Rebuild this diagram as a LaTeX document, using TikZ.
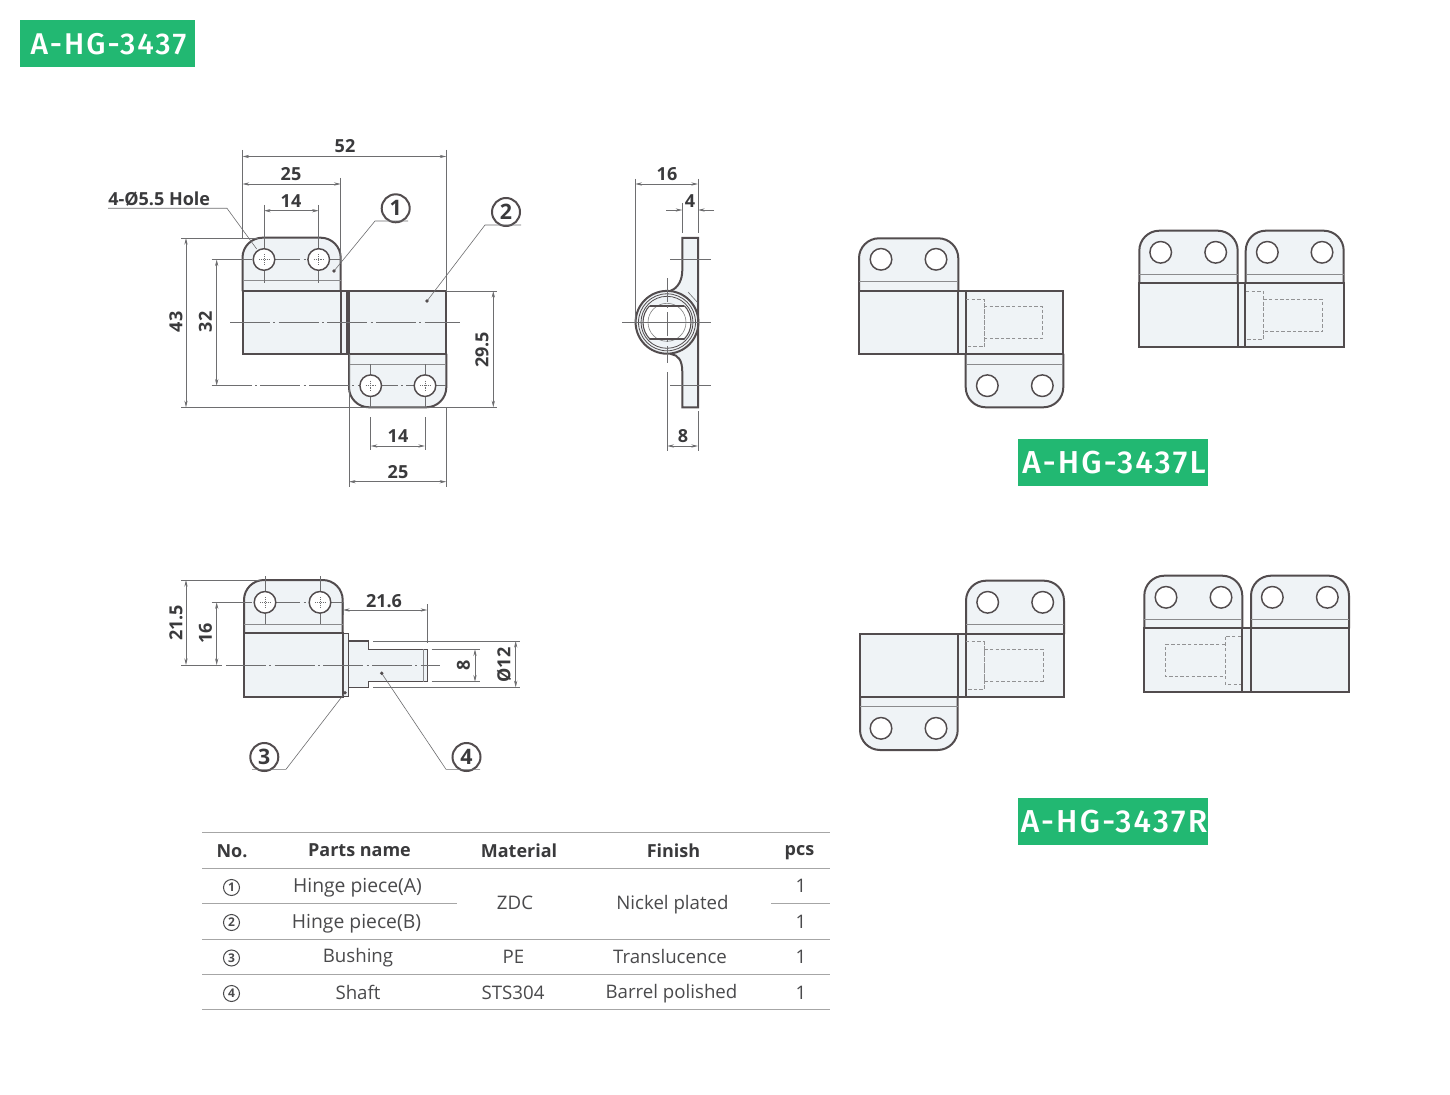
\documentclass[tikz,border=0pt]{standalone}
\usepackage{fontspec}
\setmainfont{Open Sans}
\newfontfamily\dimfont{Open Sans}
\newfontfamily\badgefont[LetterSpace=7]{Fira Sans Medium}
\usetikzlibrary{arrows.meta}
\definecolor{ink}{HTML}{524C4E}
\definecolor{thin}{HTML}{6E6E70}
\definecolor{steel}{HTML}{EFF3F6}
\definecolor{badge}{HTML}{22B872}
\definecolor{txt}{HTML}{3A3A3C}
\definecolor{tbl}{HTML}{4A4A4C}
\tikzset{
  outl/.style={draw=ink,line width=1.5pt,line cap=round},
  foldl/.style={draw=thin!80,line width=0.45pt},
  thinl/.style={draw=thin,line width=0.45pt},
  dimline/.style={thinl,{Stealth[length=5pt,width=2.4pt]}-{Stealth[length=5pt,width=2.4pt]}},
  outarrow/.style={thinl,-{Stealth[length=5pt,width=2.4pt]}},
  center line/.style={thinl,dash pattern=on 30pt off 2.5pt on 1.5pt off 2.5pt},
  hidden/.style={draw=thin!75,line width=0.45pt,dash pattern=on 2.6pt off 1.6pt},
  dimtext/.style={font=\dimfont\bfseries\fontsize{13.5}{14}\selectfont,text=txt,inner sep=0pt},
  badgetext/.style={text=white,font=\badgefont\fontsize{22.5}{22.5}\selectfont,inner sep=0pt},
  badgetextb/.style={text=white,font=\badgefont\fontsize{23.8}{23.8}\selectfont,inner sep=0pt},
  callout/.style={circle,draw=ink,line width=1.5pt,minimum size=21pt,inner sep=0pt,font=\dimfont\bfseries\fontsize{16}{16}\selectfont,text=txt},
  tabcirc/.style={circle,draw=tbl,line width=0.75pt,minimum size=12pt,inner sep=0pt,font=\dimfont\bfseries\fontsize{9}{9}\selectfont,text=tbl},
  thead/.style={font=\dimfont\bfseries\fontsize{13.5}{14}\selectfont,text=txt,inner sep=0pt},
  tcell/.style={font=\fontsize{14}{14}\selectfont,text=tbl,inner sep=0pt},
  tcellw/.style={font=\fontsize{14.5}{14.5}\selectfont,text=tbl,inner sep=0pt},
  rulel/.style={draw=gray!70,line width=0.75pt},
  leaderdot/.style={circle,fill=ink,inner sep=0pt,minimum size=2.8pt}
}
% tab piece: x0 x1 ybody yfold ytip
\newcommand{\tabpiece}[5]{%
  \path[fill=steel,rounded corners=15pt] (#1,#3) -- (#1,#5) -- (#2,#5) -- (#2,#3);
  \draw[outl,rounded corners=15pt] (#1,#3) -- (#1,#5) -- (#2,#5) -- (#2,#3);
  \draw[foldl] (#1,#4) -- (#2,#4);
}
% body: x0 x1 ytop ybot
\newcommand{\bodyrect}[4]{\draw[outl,fill=steel] (#1,#3) rectangle (#2,#4);}
\newcommand{\holes}[3]{%
  \draw[outl,fill=white,line width=1.1pt] (#1,#3) circle[radius=10.8];
  \draw[outl,fill=white,line width=1.1pt] (#2,#3) circle[radius=10.8];
}
\newcommand{\hcross}[2]{%
  \draw[thinl,densely dotted] (#1-5,#2) -- (#1+5,#2);
  \draw[thinl,densely dotted] (#1,#2-5) -- (#1,#2+5);
}
\newcommand{\hdash}[4]{%
  \draw[hidden] (#1,#3) -- (#2,#3) -- (#2,#4) -- (#1,#4);
}
\begin{document}
\begin{tikzpicture}[x=0.75pt,y=-0.75pt]
\useasboundingbox (0,0) rectangle (1450,1095);
\fill[white] (0,0) rectangle (1450,1095);

% badges
\fill[badge] (20,20) rectangle (195,67);
\node[badgetext] (bA) at (108.5,44) {A-HG-3437};
\fill[badge] (1018,439) rectangle (1208,486);
\node[badgetextb] (bL) at (1114,463) {A-HG-3437L};
\fill[badge] (1018,798) rectangle (1208,845);
\node[badgetextb] (bR) at (1114,822) {A-HG-3437R};

%%% FRONT VIEW
\tabpiece{242.5}{340.7}{291}{280.7}{237.7}
\bodyrect{242.5}{347.5}{291}{354}
\tabpiece{349}{446.3}{354}{364}{407.3}
\bodyrect{349}{446.3}{291}{354}
\draw[outl] (340.7,291) -- (340.7,354);
\draw[outl] (347,291) -- (347,354);
% centre lines
\draw[center line] (230,322.3) -- (460,322.3);
\draw[center line] (211.7,259.5) -- (340,259.5);
\draw[center line] (211.7,385.7) -- (448,385.7);
\foreach \x/\a/\b in {264/205/283,318.7/205/283,370.7/364/407,425/364/407}
  \draw[thinl] (\x,\a) -- (\x,\b);
\holes{264}{318.7}{259.5}
\holes{370.7}{425}{385.7}
\hcross{264}{259.5}\hcross{318.7}{259.5}\hcross{370.7}{385.7}\hcross{425}{385.7}
% dims
\draw[thinl] (242.5,150) -- (242.5,238);
\draw[thinl] (446.3,150) -- (446.3,291);
\draw[dimline] (242.5,156.5) -- (446.3,156.5);
\node[dimtext] (d52) at (345,146) {52};
\draw[thinl] (340.7,178) -- (340.7,262);
\draw[dimline] (242.5,184) -- (340.7,184);
\node[dimtext] (d25a) at (291,174) {25};
\draw[dimline] (264,210.7) -- (318.7,210.7);
\node[dimtext] (d14a) at (291,201) {14};
\node[dimtext,anchor=west] (holeTxt) at (108,199.5) {4-Ø5.5 Hole};
\coordinate (holeEnd) at (256.7,249);
\draw[thinl] (108,208.3) -- (227,208.3) -- (holeEnd);

\node[callout] (c1) at (395.7,208.3) {1};
\coordinate (p1) at (334,271);
\draw[thinl] (408,221) -- (375,221) -- (p1);
\node[leaderdot] at (p1) {};
\node[callout] (c2) at (506,212) {2};
\coordinate (p2) at (427,301);
\draw[thinl] (521,225) -- (485,225) -- (p2);
\node[leaderdot] at (p2) {};

\draw[thinl] (181,238) -- (258,238);
\draw[thinl] (181,407.3) -- (497,407.3);
\draw[dimline] (186,238) -- (186,407.3);
\node[dimtext,rotate=90] (d43) at (176,322) {43};
\draw[dimline] (216.7,259.5) -- (216.7,385.7);
\node[dimtext,rotate=90] (d32) at (205.5,322) {32};
\draw[thinl] (446.3,291) -- (497,291);
\draw[dimline] (493.3,291) -- (493.3,407.3);
\node[dimtext,rotate=90] (d295) at (482,350) {29.5};
\draw[thinl] (370.7,417) -- (370.7,450);
\draw[thinl] (425,417) -- (425,450);
\draw[dimline] (370.7,446) -- (425,446);
\node[dimtext] (d14b) at (398,436) {14};
\draw[thinl] (349,354) -- (349,487);
\draw[thinl] (446.3,407) -- (446.3,487);
\draw[dimline] (349,481.7) -- (446.3,481.7);
\node[dimtext] (d25b) at (398,472) {25};

%%% SIDE VIEW
\draw[outl,fill=steel] (698,238) -- (682.3,238) -- (682.3,270) .. controls (682.3,280) and (678,288) .. (671,290.5)
  -- (671,354) .. controls (678,355) and (682.3,360) .. (682.3,372) -- (682.3,407.3) -- (698,407.3) -- cycle;
\draw[outl,fill=steel] (667,322.3) circle[radius=31.4];
\draw[outl,line width=0.6pt] (667,322.3) circle[radius=28.5];
\draw[outl,line width=0.6pt] (667,322.3) circle[radius=26];
\draw[thinl] (688,292) -- (698,303);
\draw[outl] (698,303) -- (698,342);
\begin{scope}
\clip (630,306) rectangle (700,339);
\fill[white] (667,322.3) circle[radius=24];
\draw[outl,line width=0.8pt] (667,322.3) circle[radius=24];
\end{scope}
\draw[thinl,draw=gray] (667,322.3) circle[radius=19];
\draw[outl,line width=1.1pt] (650,306) -- (684,306);
\draw[outl,line width=1.1pt] (650,339) -- (684,339);
\draw[thinl] (622,322.3) -- (711,322.3);
\draw[thinl] (670,259) -- (711,259);
\draw[thinl] (670,385.7) -- (711,385.7);
\draw[thinl,dash pattern=on 18pt off 3pt on 1.5pt off 3pt] (667.3,278) -- (667.3,363);
\draw[thinl] (635.3,179) -- (635.3,322);
\draw[thinl] (698,179) -- (698,233);
\draw[dimline] (635.3,184) -- (698,184);
\node[dimtext] (d16s) at (667,174) {16};
\draw[thinl] (682.3,203) -- (682.3,233);
\draw[outarrow] (666,210) -- (682.3,210);
\draw[outarrow] (714,210) -- (698,210);
\node[dimtext] (d4s) at (690,201) {4};
\draw[thinl] (667.3,372) -- (667.3,451);
\draw[thinl] (698,411) -- (698,451);
\draw[dimline] (667.3,446) -- (698,446);
\node[dimtext] (d8s) at (683,436) {8};

%%% LOWER VIEW
\tabpiece{244}{342.7}{633.3}{624.3}{580}
\draw[draw=ink,line width=0.8pt,fill=steel] (348.7,641) -- (368.3,641) -- (368.3,649.3) -- (427.3,649.3) -- (427.3,681.7) -- (368.3,681.7) -- (368.3,687.3) -- (348.7,687.3) -- cycle;
\draw[foldl] (423,649.3) -- (423,681.7);
\draw[draw=ink,line width=0.8pt,fill=steel] (342.7,633.3) rectangle (348.7,696.7);
\bodyrect{244}{342.7}{633.3}{696.7}
\draw[center line] (226,665) -- (440,665);
\draw[center line] (211.7,602.3) -- (343,602.3);
\foreach \x in {265,320}
  \draw[thinl] (\x,576) -- (\x,624);
\holes{265}{320}{602.3}
\hcross{265}{602.3}\hcross{320}{602.3}
\draw[thinl] (181,580) -- (260,580);
\draw[thinl] (181,665) -- (222,665);
\draw[dimline] (186,580) -- (186,665);
\node[dimtext,rotate=90] (d215) at (176,623) {21.5};
\draw[dimline] (216.7,602.3) -- (216.7,665);
\node[dimtext,rotate=90] (d16l) at (205.5,633) {16};
\draw[thinl] (343,602) -- (343,615);
\draw[thinl] (427.3,604) -- (427.3,643);
\draw[dimline] (343,610) -- (427.3,610);
\node[dimtext] (d216) at (384,601) {21.6};
\draw[thinl] (431.7,649.3) -- (480,649.3);
\draw[thinl] (431.7,681.7) -- (480,681.7);
\draw[dimline] (475,649.3) -- (475,681.7);
\node[dimtext,rotate=90] (d8l) at (463.5,665) {8};
\draw[thinl] (373,641) -- (520,641);
\draw[thinl] (373,687.3) -- (520,687.3);
\draw[dimline] (515.7,641) -- (515.7,687.3);
\node[dimtext,rotate=90] (dphi) at (504,665) {Ø12};

\node[callout] (c3) at (264.3,757) {3};
\coordinate (p3) at (345,692.7);
\draw[thinl] (252,769.3) -- (286,769.3) -- (p3);
\node[leaderdot] at (p3) {};
\node[callout] (c4) at (466.5,757) {4};
\coordinate (p4) at (381.7,673.3);
\draw[thinl] (480,769.3) -- (446,769.3) -- (p4);
\node[leaderdot] at (p4) {};

%%% L, open
\tabpiece{859}{958.3}{291}{281}{238.3}
\bodyrect{859}{965.5}{291}{354}
\tabpiece{965.7}{1063.3}{354}{364}{407.3}
\bodyrect{965.7}{1063.3}{291}{354}
\draw[outl] (958.3,291) -- (958.3,354);
\holes{881}{936}{259.3}
\holes{987.3}{1042.3}{385.7}
\hdash{966}{984}{299}{346.7}
\draw[hidden] (984,299) -- (984,346.7);
\draw[hidden] (984,306.7) -- (1042.7,306.7) -- (1042.7,338.3) -- (984,338.3);

%%% L, closed
\tabpiece{1139.3}{1237.7}{283.3}{274}{230.7}
\tabpiece{1245.7}{1343.7}{283.3}{274}{230.7}
\bodyrect{1139.3}{1245}{283.3}{346.7}
\bodyrect{1245}{1343.7}{283.3}{346.7}
\draw[outl] (1237.7,283.3) -- (1237.7,346.7);
\holes{1160.7}{1215.7}{252.3}
\holes{1267.3}{1322}{252.3}
\hdash{1246}{1263.3}{291}{339.3}
\draw[hidden] (1263.3,291) -- (1263.3,339.3);
\draw[hidden] (1263.3,299.3) -- (1322.3,299.3) -- (1322.3,331.7) -- (1263.3,331.7);

%%% R, open
\tabpiece{860}{957.7}{696.7}{706.7}{750}
\tabpiece{966}{1064}{634}{624}{580.7}
\bodyrect{860}{965.5}{634}{696.7}
\bodyrect{966}{1064}{634}{696.7}
\draw[outl] (957.7,634) -- (957.7,696.7);
\holes{881}{936}{728.3}
\holes{987.7}{1042.7}{602.3}
\hdash{966}{984.3}{641.7}{689}
\draw[hidden] (984.3,641.7) -- (984.3,689);
\draw[hidden] (984.3,649.3) -- (1043,649.3) -- (1043,681) -- (984.3,681);

%%% R, closed
\tabpiece{1144.3}{1242.3}{628.3}{619}{575.7}
\tabpiece{1251}{1349}{628.3}{619}{575.7}
\bodyrect{1144.3}{1251}{628.3}{691.7}
\bodyrect{1251}{1349}{628.3}{691.7}
\draw[outl] (1242.3,628.3) -- (1242.3,691.7);
\holes{1166}{1221}{597.3}
\holes{1272.3}{1327.3}{597.3}
\draw[hidden] (1241,636) -- (1225,636) -- (1225,684.3) -- (1241,684.3);
\draw[hidden] (1225,644.3) -- (1165.7,644.3) -- (1165.7,676.7) -- (1225,676.7);

%%% TABLE
\foreach \y in {832.5,868,939,974.5,1009.5}
  \draw[rulel] (202,\y) -- (830,\y);
\draw[rulel] (202,903.5) -- (457,903.5);
\draw[rulel] (771,903.5) -- (830,903.5);
\node[thead] (hNo) at (232,851) {No.};
\node[thead] (hParts) at (359.5,850.5) {Parts name};
\node[thead] (hMat) at (519,850.5) {Material};
\node[thead] (hFin) at (673.5,850.5) {Finish};
\node[thead] (hPcs) at (799.5,852.5) {pcs};
\node[tabcirc] (n1) at (231.5,887.5) {1};
\node[tabcirc] (n2) at (231.5,922.5) {2};
\node[tabcirc] (n3) at (231.5,958) {3};
\node[tabcirc] (n4) at (231.5,993.5) {4};
\node[tcellw] (t1) at (357.5,888) {Hinge piece(A)};
\node[tcellw] (t2) at (356.5,924) {Hinge piece(B)};
\node[tcell] (t3) at (358,957.5) {Bushing};
\node[tcell] (t4) at (358,992.5) {Shaft};
\node[tcell] (m1) at (515,903) {ZDC};
\node[tcell] (m3) at (513.5,957) {PE};
\node[tcell] (m4) at (513,993) {STS304};
\node[tcell] (f1) at (672.5,904.5) {Nickel plated};
\node[tcell] (f3) at (670,956.5) {Translucence};
\node[tcell] (f4) at (671.5,993.5) {Barrel polished};
\node[tcell] (q1) at (801,886) {1};
\node[tcell] (q2) at (801,922) {1};
\node[tcell] (q3) at (801,957) {1};
\node[tcell] (q4) at (801,992.5) {1};
\end{tikzpicture}
\end{document}
